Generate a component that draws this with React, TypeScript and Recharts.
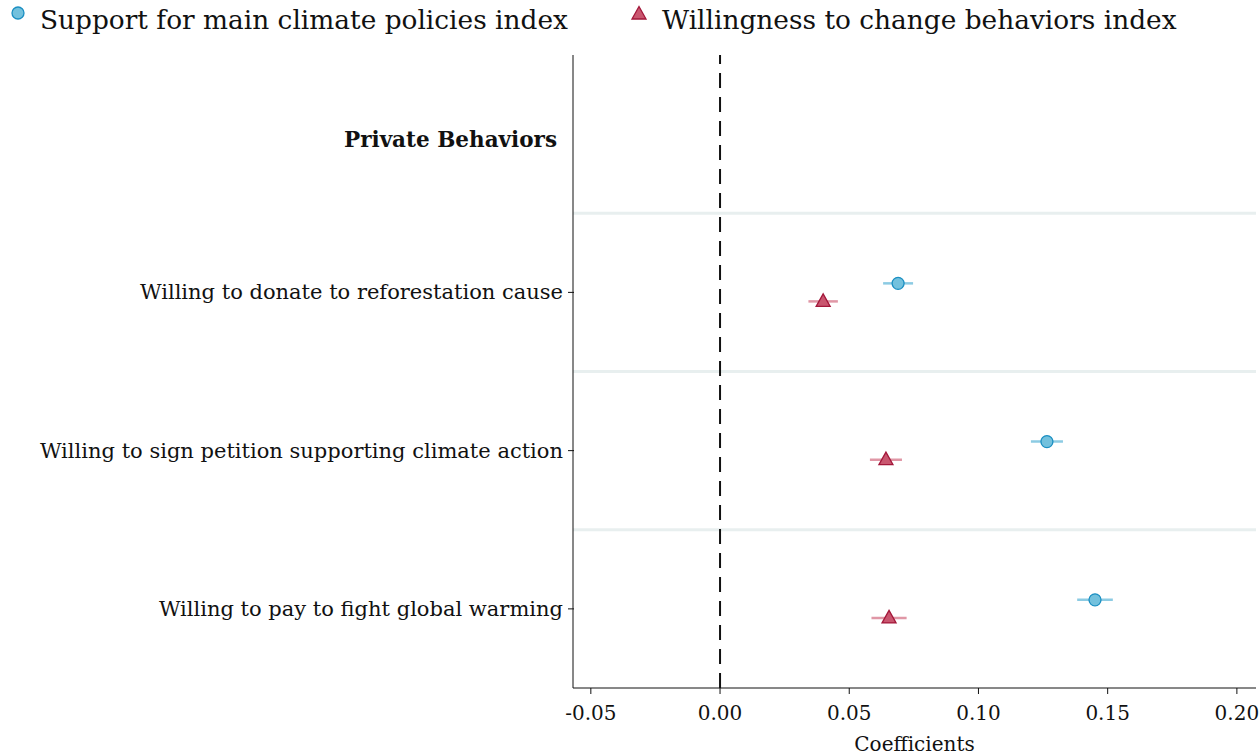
import React from 'react'
import { ScatterChart, Scatter, XAxis, YAxis, ErrorBar, ReferenceLine } from 'recharts'

// row labels from bottom to top; last is the section header
const rowLabels = [
  'Willing to pay to fight global warming',
  'Willing to sign petition supporting climate action',
  'Willing to donate to reforestation cause',
  'Private Behaviors',
]
const rowPos = [0.5, 1.5, 2.5, 3.5]

const supportCoef = [0.1451, 0.1265, 0.0689]
const supportErr = [0.0069, 0.0062, 0.0058]
const willingCoef = [0.0654, 0.0642, 0.0399]
const willingErr = [0.0068, 0.0062, 0.0057]

const xTicks = [-0.05, 0, 0.05, 0.1, 0.15, 0.2]
const separators = [1, 2, 3]

const serif = '"DejaVu Serif", serif'
const blueFill = '#73c1dd'
const blueStroke = '#1b8fc2'
const blueErr = '#8ccbe3'
const redFill = '#c9566f'
const redStroke = '#a3173a'
const redErr = '#e097a6'

const offset = 0.057
const supportData = supportCoef.map((c, i) => ({ x: c, y: rowPos[i] + offset, err: supportErr[i] }))
const willingData = willingCoef.map((c, i) => ({ x: c, y: rowPos[i] - offset, err: willingErr[i] }))

const Circle = (p: any) => (
  <circle cx={p.cx} cy={p.cy} r={6} fill={blueFill} stroke={blueStroke} strokeWidth={1.3} />
)
const Tri = (p: any) => {
  const { cx, cy } = p
  return (
    <polygon
      points={`${cx},${cy - 7.5} ${cx - 7},${cy + 5} ${cx + 7},${cy + 5}`}
      fill={redFill}
      stroke={redStroke}
      strokeWidth={1.3}
    />
  )
}

const YTick = (p: any) => {
  const { x, y, payload } = p
  const idx = rowPos.indexOf(payload.value)
  const label = rowLabels[idx]
  if (idx === 3) {
    return (
      <text x={x - 8} y={y + 13} textAnchor="end" fontFamily={serif} fontSize={21.5} fontWeight="bold" fill="#111">
        {label}
      </text>
    )
  }
  return (
    <g>
      <line x1={x + 3} x2={x + 9} y1={y} y2={y} stroke="#111" strokeWidth={1} />
      <text x={x - 2} y={y + 7} textAnchor="end" fontFamily={serif} fontSize={21} fill="#111">
        {label}
      </text>
    </g>
  )
}

const XTick = (p: any) => {
  const { x, y, payload } = p
  return (
    <text x={x} y={y + 24} textAnchor="middle" fontFamily={serif} fontSize={20} fill="#111">
      {payload.value.toFixed(2)}
    </text>
  )
}

export default function App() {
  return (
    <div style={{ position: 'absolute', left: 0, top: 0, width: 1260, height: 753, background: '#fff' }}>
      <div style={{ position: 'absolute', left: 10, top: 4, fontFamily: serif, fontSize: 26.4, color: '#111', display: 'flex', alignItems: 'center' }}>
        <svg width={16} height={16} style={{ marginRight: 14, marginTop: -14 }}>
          <circle cx={8} cy={8} r={6} fill={blueFill} stroke={blueStroke} strokeWidth={1.3} />
        </svg>
        <span>Support for main climate policies index</span>
      </div>
      <div style={{ position: 'absolute', left: 630, top: 4, fontFamily: serif, fontSize: 26.4, color: '#111', display: 'flex', alignItems: 'center' }}>
        <svg width={18} height={16} style={{ marginRight: 14, marginTop: -14 }}>
          <polygon points="9,1.5 2,14 16,14" fill={redFill} stroke={redStroke} strokeWidth={1.3} />
        </svg>
        <span>Willingness to change behaviors index</span>
      </div>
      <ScatterChart width={1260} height={753} margin={{ top: 55, right: 4, bottom: 0, left: 0 }}>
        <XAxis
          type="number"
          dataKey="x"
          domain={[-0.0569, 0.2074]}
          ticks={xTicks}
          allowDataOverflow
          tick={<XTick />}
          tickSize={6}
          tickLine={{ stroke: '#111' }}
          axisLine={{ stroke: '#111' }}
          height={65}
          label={{ value: 'Coefficients', position: 'insideBottom', offset: 0, dy: -2, style: { fontFamily: serif, fontSize: 20, fill: '#111' } }}
        />
        <YAxis
          type="number"
          dataKey="y"
          domain={[0, 4]}
          ticks={rowPos}
          allowDataOverflow
          width={573}
          tick={<YTick />}
          tickLine={false}
          axisLine={{ stroke: '#111' }}
        />
        {separators.map((s) => (
          <ReferenceLine key={s} y={s} stroke="#e8efef" strokeWidth={3} />
        ))}
        <ReferenceLine x={0} stroke="#111" strokeWidth={2} strokeDasharray="15 9" />
        <Scatter data={supportData} shape={<Circle />} isAnimationActive={false}>
          <ErrorBar dataKey="err" direction="x" width={0} stroke={blueErr} strokeWidth={2.5} />
        </Scatter>
        <Scatter data={willingData} shape={<Tri />} isAnimationActive={false}>
          <ErrorBar dataKey="err" direction="x" width={0} stroke={redErr} strokeWidth={2.5} />
        </Scatter>
      </ScatterChart>
    </div>
  )
}
